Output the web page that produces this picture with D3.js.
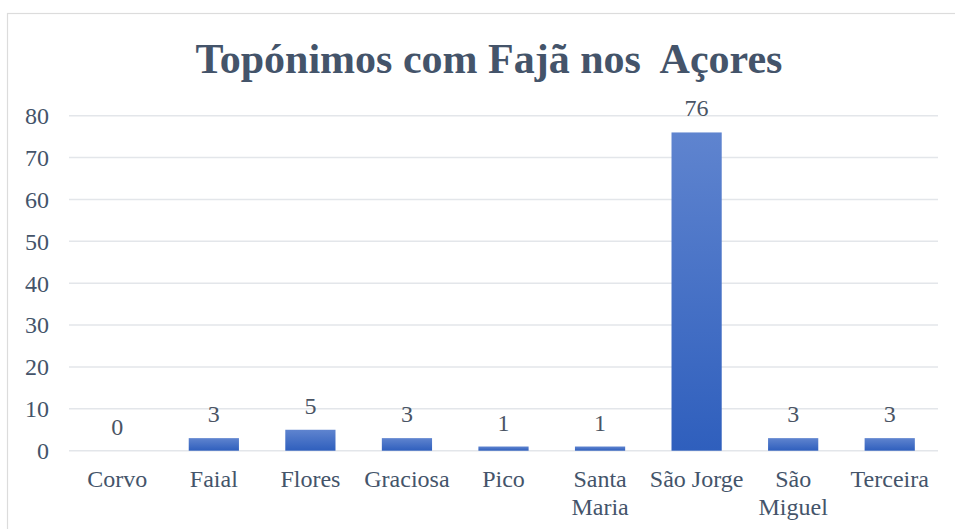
<!DOCTYPE html>
<html>
<head>
<meta charset="utf-8">
<script src="https://cdn.jsdelivr.net/npm/d3@7"></script>
<style>
  body { margin: 0; background: #fff; }
  text { font-family: "Liberation Serif", "Times New Roman", serif; }
</style>
</head>
<body>
<div id="chart"></div>
<script>
const width = 955;
const height = 529;
const margin = { top: 115.7, right: 17, bottom: 78.3, left: 69 };

const titleText = "Topónimos com Fajã nos  Açores";
const islands = ["Corvo", "Faial", "Flores", "Graciosa", "Pico", "Santa Maria", "São Jorge", "São Miguel", "Terceira"];
const counts = [0, 3, 5, 3, 1, 1, 76, 3, 3];
const yTicks = [0, 10, 20, 30, 40, 50, 60, 70, 80];

const textColor = "#44546A";
const gridColor = "#e3e6ea";

const svg = d3.select("#chart")
  .append("svg")
  .attr("width", width)
  .attr("height", height);

// chart frame
svg.append("rect")
  .attr("x", 7.5)
  .attr("y", 13.5)
  .attr("width", width)
  .attr("height", height)
  .attr("fill", "#fff")
  .attr("stroke", "#dcdcdc")
  .attr("stroke-width", 1.2);

// bar gradient, lighter on top
const grad = svg.append("defs").append("linearGradient")
  .attr("id", "barGrad")
  .attr("x1", 0).attr("y1", 0).attr("x2", 0).attr("y2", 1);
grad.append("stop").attr("offset", "0%").attr("stop-color", "#5f84cf");
grad.append("stop").attr("offset", "100%").attr("stop-color", "#2f5fbd");

svg.append("text")
  .attr("x", 489)
  .attr("y", 73)
  .attr("text-anchor", "middle")
  .style("white-space", "pre")
  .attr("font-size", 42)
  .attr("font-weight", "bold")
  .attr("fill", textColor)
  .text(titleText);

const x = d3.scaleBand()
  .domain(islands)
  .range([margin.left, width - margin.right])
  .paddingInner(0.48)
  .paddingOuter(0.24);

const y = d3.scaleLinear()
  .domain([0, 80])
  .range([height - margin.bottom, margin.top]);

// gridlines
svg.append("g")
  .selectAll("line")
  .data(yTicks)
  .join("line")
  .attr("x1", margin.left)
  .attr("x2", width - margin.right)
  .attr("y1", d => y(d))
  .attr("y2", d => y(d))
  .attr("stroke", gridColor)
  .attr("stroke-width", 1.5);

// y axis labels
const yAxis = svg.append("g")
  .attr("transform", "translate(" + (margin.left - 20) + ",0)")
  .call(d3.axisLeft(y).tickValues(yTicks).tickSize(0).tickPadding(0));
yAxis.select(".domain").remove();
yAxis.selectAll("text")
  .attr("font-family", "Liberation Serif, Times New Roman, serif")
  .attr("font-size", 24)
  .attr("fill", textColor)
  .attr("dy", "0.33em");

// bars
svg.append("g")
  .selectAll("rect")
  .data(islands)
  .join("rect")
  .attr("x", d => x(d))
  .attr("width", x.bandwidth())
  .attr("y", (d, i) => y(counts[i]))
  .attr("height", (d, i) => y(0) - y(counts[i]))
  .attr("fill", "url(#barGrad)");

// value labels
svg.append("g")
  .selectAll("text")
  .data(islands)
  .join("text")
  .attr("x", d => x(d) + x.bandwidth() / 2)
  .attr("y", (d, i) => y(counts[i]) - 16)
  .attr("text-anchor", "middle")
  .attr("font-size", 24)
  .attr("fill", "#4a5464")
  .text((d, i) => counts[i]);

// category labels, wrapped on two words
const cat = svg.append("g")
  .selectAll("text")
  .data(islands)
  .join("text")
  .attr("x", d => x(d) + x.bandwidth() / 2)
  .attr("y", 487)
  .attr("text-anchor", "middle")
  .attr("font-size", 24)
  .attr("fill", textColor);

cat.each(function (d) {
  const el = d3.select(this);
  const lines = (d === "Santa Maria" || d === "São Miguel") ? d.split(" ") : [d];
  lines.forEach((t, i) => {
    el.append("tspan")
      .attr("x", x(d) + x.bandwidth() / 2)
      .attr("dy", i === 0 ? 0 : 28)
      .text(t);
  });
});
</script>
</body>
</html>
